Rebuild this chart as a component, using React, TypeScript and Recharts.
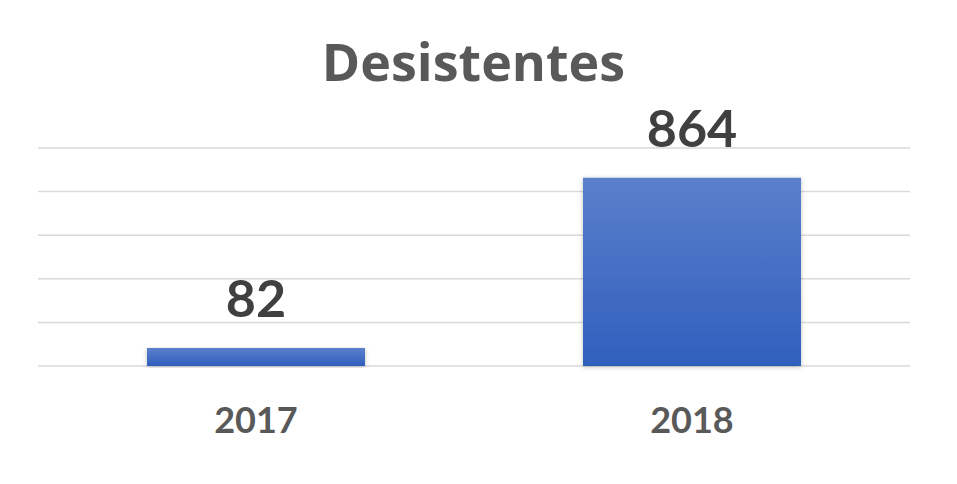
import React from 'react';
import {
    BarChart,
    Bar,
    XAxis,
    YAxis,
    CartesianGrid,
    LabelList,
} from 'recharts';

const years = ['2017', '2018'];
const desistentes = [82, 864];
const yTicks = [0, 200, 400, 600, 800, 1000];

const data = years.map((year, i) => ({ year, value: desistentes[i] }));

const FONT = 'Lato, "Open Sans", sans-serif';

const App: React.FC = () => {
    return (
        <div style={{ position: 'absolute', left: 0, top: 0, width: 957, height: 484, background: '#fff' }}>
            <div
                style={{
                    position: 'absolute',
                    left: 0,
                    width: 947,
                    top: 31,
                    textAlign: 'center',
                    fontFamily: '"Open Sans", sans-serif',
                    fontWeight: 700,
                    fontSize: 52,
                    lineHeight: '60px',
                    color: '#595959',
                }}
            >
                Desistentes
            </div>
            <BarChart
                width={957}
                height={484}
                data={data}
                margin={{ top: 148, right: 47, bottom: 58, left: 38 }}
                barCategoryGap='25%'
            >
                <defs>
                    <linearGradient id='barFill' x1='0' y1='0' x2='0' y2='1'>
                        <stop offset='0%' stopColor='#5b7fcb' />
                        <stop offset='100%' stopColor='#2f5fbd' />
                    </linearGradient>
                    <filter id='barShadow' x='-5%' y='-5%' width='110%' height='115%'>
                        <feDropShadow dx='0' dy='1' stdDeviation='2' floodColor='#000' floodOpacity='0.25' />
                    </filter>
                </defs>
                <CartesianGrid vertical={false} stroke='#d9d9d9' strokeWidth={1.5} />
                <XAxis
                    dataKey='year'
                    height={60}
                    axisLine={false}
                    tickLine={false}
                    tickSize={0}
                    tickMargin={41}
                    tick={{ fontSize: 36, fontWeight: 700, fill: '#595959', fontFamily: FONT }}
                />
                <YAxis hide domain={[0, 1000]} ticks={yTicks} />
                <Bar
                    dataKey='value'
                    fill='url(#barFill)'
                    filter='url(#barShadow)'
                    isAnimationActive={false}
                >
                    <LabelList
                        dataKey='value'
                        position='top'
                        offset={31}
                        style={{ fontSize: 52, fontWeight: 700, fill: '#404040', fontFamily: FONT }}
                    />
                </Bar>
            </BarChart>
        </div>
    );
};

export default App;
